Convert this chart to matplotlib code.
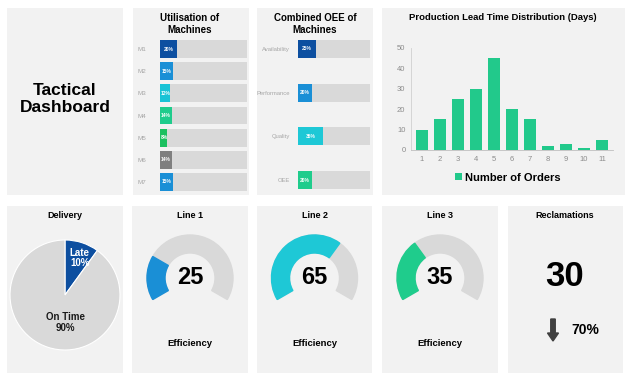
import matplotlib.pyplot as plt
import matplotlib as mpl
from matplotlib.patches import Wedge, FancyArrow

mpl.rc('font', family=['Liberation Sans', 'DejaVu Sans'])

W, H = 638, 377

# data
machines = ['M1', 'M2', 'M3', 'M4', 'M5', 'M6', 'M7']
machine_util = [20, 15, 12, 14, 8, 14, 15]
machine_colors = ['#0d4fa0', '#1a8fd6', '#19c3d6', '#1fcc8c', '#1cc060', '#7f7f7f', '#1a8fd6']

oee_names = ['Availability', 'Performance', 'Quality', 'OEE']
oee_values = [25, 20, 35, 20]
oee_colors = ['#0d4fa0', '#1a8fd6', '#1ec8d6', '#1fcc8c']

lead_days = [1, 2, 3, 4, 5, 6, 7, 8, 9, 10, 11]
lead_orders = [10, 15, 25, 30, 45, 20, 15, 2, 3, 1, 5]

delivery_labels = ['Late', 'On Time']
delivery_share = [10, 90]

line_names = ['Line 1', 'Line 2', 'Line 3']
line_eff = [25, 65, 35]
line_colors = ['#1a8fd6', '#1ec8d6', '#1fcc8c']

reclamations = 30
reclamation_change = 70

BG = '#f2f2f2'
TRACK = '#d9d9d9'


def box(x0, y0, x1, y1):
    return [x0 / W, 1 - y1 / H, (x1 - x0) / W, (y1 - y0) / H]


def panel(fig, x0, y0, x1, y1):
    ax = fig.add_axes(box(x0, y0, x1, y1))
    ax.set_facecolor(BG)
    ax.set_xlim(0, x1 - x0)
    ax.set_ylim(y1 - y0, 0)
    ax.set_xticks([])
    ax.set_yticks([])
    for s in ax.spines.values():
        s.set_visible(False)
    return ax


fig = plt.figure(figsize=(W / 100, H / 100), dpi=100)
fig.patch.set_facecolor('white')

# title panel
p = panel(fig, 7, 8, 123, 195)
p.text(58, 91, 'Tactical\nDashboard', ha='center', va='center', fontsize=12.5,
       fontweight='bold', linespacing=1.2)

# utilisation of machines
p = panel(fig, 133, 8, 249, 195)
p.text(57, 16, 'Utilisation of\nMachines', ha='center', va='center', fontsize=7,
       fontweight='bold', linespacing=1.2)
ax = fig.add_axes(box(160, 38, 247, 193))
ax.set_facecolor('none')
ax.barh(machines, [100] * len(machines), height=0.81, color=TRACK)
ax.barh(machines, machine_util, height=0.81, color=machine_colors)
for i, v in enumerate(machine_util):
    ax.text(max(v / 2, 5), i, f'{v}%', ha='center', va='center', fontsize=3.5,
            color='white', fontweight='bold')
ax.set_xlim(0, 100)
ax.set_ylim(6.5, -0.5)
ax.set_xticks([])
ax.tick_params(axis='y', length=0, pad=10, labelsize=4.5, labelcolor='#a6a6a6')
for s in ax.spines.values():
    s.set_visible(False)

# combined OEE
p = panel(fig, 257, 8, 373, 195)
p.text(58, 16, 'Combined OEE of\nMachines', ha='center', va='center', fontsize=7,
       fontweight='bold', linespacing=1.2)
ax = fig.add_axes(box(298, 38, 370, 191))
ax.set_facecolor('none')
ax.barh(oee_names, [100] * len(oee_names), height=0.41, color=TRACK)
ax.barh(oee_names, oee_values, height=0.41, color=oee_colors)
for i, v in enumerate(oee_values):
    ax.text(max(v / 2, 8), i, f'{v}%', ha='center', va='center', fontsize=3.5,
            color='white', fontweight='bold')
ax.set_xlim(0, 100)
ax.set_ylim(3.25, -0.25)
ax.set_xticks([])
ax.tick_params(axis='y', length=0, pad=6, labelsize=4.2, labelcolor='#a6a6a6')
for s in ax.spines.values():
    s.set_visible(False)

# production lead time
p = panel(fig, 382, 8, 625, 195)
p.text(121, 10, 'Production Lead Time Distribution (Days)', ha='center', va='center',
       fontsize=6.8, fontweight='bold')
ax = fig.add_axes(box(411, 48, 613, 150))
ax.set_facecolor('none')
ax.bar(lead_days, lead_orders, width=0.65, color='#22c98b', label='Number of Orders')
ax.set_xlim(0.4, 11.6)
ax.set_ylim(0, 50)
ax.set_xticks(lead_days)
ax.set_yticks(range(0, 51, 10))
ax.tick_params(length=0, labelsize=5.5, labelcolor='#8c8c8c', pad=4)
for s in ['top', 'right']:
    ax.spines[s].set_visible(False)
ax.spines['left'].set_color('#d0d0d0')
ax.spines['bottom'].set_color('#bfbfbf')
ax.spines['left'].set_linewidth(0.6)
ax.spines['bottom'].set_linewidth(0.6)
leg = ax.legend(loc='center', bbox_to_anchor=(0.48, -0.27), frameon=False,
                prop={'size': 8, 'weight': 'bold'}, handlelength=0.6, handleheight=0.6,
                handletextpad=0.3)

# delivery pie
p = panel(fig, 7, 206, 123, 373)
p.text(58, 10, 'Delivery', ha='center', va='center', fontsize=6.5, fontweight='bold')
ax = fig.add_axes(box(10, 240, 120, 350))
ax.pie(delivery_share, colors=['#0d4fa0', TRACK], startangle=90, counterclock=False,
       wedgeprops=dict(edgecolor='white', linewidth=0.8))
ax.set_xlim(-1, 1)
ax.set_ylim(-1, 1)
ax.set_aspect('equal')
ax.text(0.27, 0.68, f'{delivery_labels[0]}\n{delivery_share[0]}%', ha='center',
        va='center', fontsize=7, color='white', linespacing=1.0, fontweight='bold')
ax.text(0, -0.5, f'{delivery_labels[1]}\n{delivery_share[1]}%', ha='center',
        va='center', fontsize=7, color='#1a1a1a', linespacing=1.05, fontweight='bold')

# gauges
gauge_panels = [(132, 248), (257, 372), (382, 498)]
for (x0, x1), name, val, col in zip(gauge_panels, line_names, line_eff, line_colors):
    p = panel(fig, x0, 206, x1, 373)
    w = x1 - x0
    p.text(w / 2, 10, name, ha='center', va='center', fontsize=6.5, fontweight='bold')
    p.text(w / 2, 137, 'Efficiency', ha='center', va='center', fontsize=6.8,
           fontweight='bold')
    cx = (x0 + x1) / 2
    ax = fig.add_axes(box(cx - 50, 228, cx + 50, 328))
    ax.set_xlim(-50, 50)
    ax.set_ylim(-50, 50)
    ax.set_aspect('equal')
    ax.axis('off')
    ax.add_patch(Wedge((0, 0), 43, -30, 210, width=18, color=TRACK))
    ax.add_patch(Wedge((0, 0), 43, 210 - 240 * val / 100, 210, width=18, color=col))
    ax.text(0, 0, str(val), ha='center', va='center', fontsize=17, fontweight='bold')

# reclamations
p = panel(fig, 508, 206, 623, 373)
p.text(57, 10, 'Reclamations', ha='center', va='center', fontsize=6.5, fontweight='bold')
p.text(57, 71, str(reclamations), ha='center', va='center', fontsize=25, fontweight='bold')
p.add_patch(FancyArrow(45, 113, 0, 14, width=4.5, head_width=11, head_length=8,
                       length_includes_head=False, color='#404040'))
p.text(63, 124, f'{reclamation_change}%', ha='left', va='center', fontsize=10,
       fontweight='bold')

fig.savefig('out.png', dpi=100, facecolor='white')
